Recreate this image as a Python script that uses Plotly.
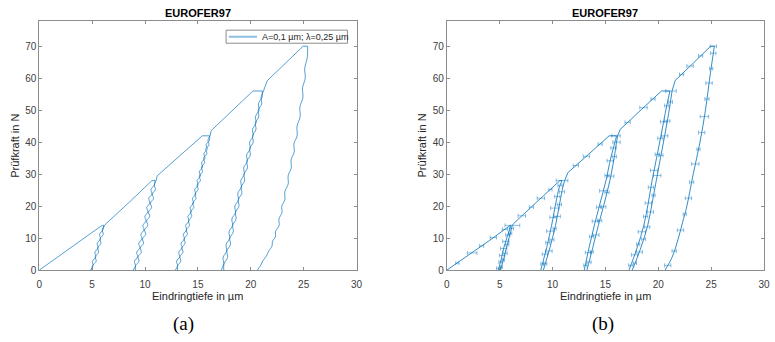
import plotly.graph_objects as go

BLUE = "rgba(0,114,189,0.9)"
LINE_A = "rgba(0,114,189,0.75)"
BAR_B = "rgba(0,114,189,0.45)"
FONT = "Liberation Sans, Arial, Helvetica, sans-serif"

# ---------------- (a) wavy surface, A = 0.1 µm, lambda = 0.25 µm ----------------
# loading branches incl. hold at peak force (depth h in µm, force F in N)
a_load_h = [
    [0, 1, 2, 3, 4, 5, 5.95, 6.10],
    [6.18, 6.30, 8.5, 10.65, 10.95],
    [11.05, 11.15, 13.3, 15.42, 16.10],
    [16.15, 16.25, 20.2, 21.10],
    [21.20, 21.55, 24.95, 25.38],
]
a_load_F = [
    [0, 2.3, 4.75, 7.15, 9.45, 11.8, 14, 14],
    [14, 14.5, 21.2, 28, 28],
    [28, 29.5, 35.8, 42, 42],
    [42, 43.6, 56, 56],
    [56, 59.2, 70, 70],
]

# unloading / reloading branches (listed from F = 0 upwards)
a_F1 = [0, 1.4, 2.8, 4.2, 5.6, 7.0, 8.4, 9.8, 11.2, 12.6, 14.0]
a_unload1 = [4.83, 5.08, 5.03, 5.35, 5.26, 5.57, 5.48, 5.79, 5.70, 6.02, 6.10]
a_reload1 = [4.98, 5.03, 5.38, 5.30, 5.61, 5.52, 5.83, 5.74, 6.05, 5.95, 6.18]

a_F2 = [0, 1.4, 2.8, 4.2, 5.6, 7.0, 8.4, 9.8, 11.2, 12.6, 14.0,
        15.4, 16.8, 18.2, 19.6, 21.0, 22.4, 23.8, 25.2, 26.6, 28.0]
a_unload2 = [8.88, 9.09, 9.00, 9.31, 9.21, 9.51, 9.41, 9.71, 9.61, 9.90, 9.80,
             10.09, 9.98, 10.27, 10.16, 10.45, 10.35, 10.65, 10.56, 10.88, 10.95]
a_reload2 = [9.10, 9.11, 9.43, 9.34, 9.65, 9.56, 9.86, 9.76, 10.06, 9.96, 10.26,
             10.15, 10.44, 10.33, 10.62, 10.51, 10.80, 10.69, 10.98, 10.87, 11.05]

a_F3 = [0, 1.4, 2.8, 4.2, 5.6, 7.0, 8.4, 9.8, 11.2, 12.6, 14.0,
        15.4, 16.8, 18.2, 19.6, 21.0, 22.4, 23.8, 25.2, 26.6, 28.0,
        29.4, 30.8, 32.2, 33.6, 35.0, 36.4, 37.8, 39.2, 40.6, 42.0]
a_unload3 = [12.86, 13.07, 12.98, 13.28, 13.19, 13.50, 13.41, 13.72, 13.62, 13.93, 13.84,
             14.15, 14.06, 14.36, 14.27, 14.58, 14.49, 14.80, 14.70, 15.01, 14.92,
             15.23, 15.14, 15.44, 15.35, 15.66, 15.57, 15.88, 15.78, 16.09, 16.10]
a_reload3 = [13.08, 13.08, 13.38, 13.29, 13.59, 13.49, 13.79, 13.70, 14.00, 13.90, 14.20,
             14.11, 14.41, 14.31, 14.61, 14.51, 14.82, 14.72, 15.02, 14.92, 15.23,
             15.13, 15.43, 15.33, 15.64, 15.54, 15.84, 15.74, 16.05, 15.95, 16.15]

a_F4 = [0, 2, 4, 6, 8, 10, 12, 14, 16, 18, 20, 22, 24, 26, 28,
        30, 32, 34, 36, 38, 40, 42, 44, 46, 48, 50, 52, 54, 56]
a_unload4 = [17.20, 17.44, 17.38, 17.72, 17.66, 18.00, 17.94, 18.28, 18.21, 18.55, 18.49,
             18.83, 18.77, 19.11, 19.05, 19.39, 19.33, 19.67, 19.61, 19.95, 19.89,
             20.23, 20.16, 20.50, 20.44, 20.78, 20.72, 21.06, 21.10]
a_reload4 = [17.44, 17.47, 17.81, 17.74, 18.08, 18.01, 18.35, 18.28, 18.61, 18.55, 18.88,
             18.82, 19.15, 19.09, 19.42, 19.35, 19.69, 19.62, 19.96, 19.89, 20.23,
             20.16, 20.49, 20.43, 20.76, 20.70, 21.03, 20.97, 21.20]

a_F5 = [0, 1.5, 3, 4.5, 6, 7.5, 9, 10.5, 12, 14, 16, 18, 20, 22, 24.5, 27,
        29.5, 32, 34.5, 37, 39.5, 42, 45, 48, 51, 54, 57, 60, 63, 66.5, 70]
a_unload5 = [20.62, 20.93, 21.15, 21.49, 21.70, 22.01, 22.05, 22.34, 22.33, 22.68, 22.66,
             22.95, 22.93, 23.22, 23.22, 23.54, 23.53, 23.83, 23.81, 24.11, 24.08,
             24.38, 24.37, 24.67, 24.64, 24.93, 24.89, 25.15, 25.10, 25.34, 25.38]

# ---------------- (b) mean curves with horizontal scatter bars ----------------
b_load_h = [
    [0, 2, 4, 6.0, 6.08],
    [6.2, 6.3, 8.5, 10.7, 10.9],
    [11.15, 11.45, 13.4, 15.35, 16.05],
    [16.15, 16.4, 18.4, 20.3, 21.1],
    [21.3, 21.6, 23.3, 24.95, 25.3],
]
b_load_F = [
    [0, 4.5, 9.2, 14, 14],
    [14, 14.5, 21.3, 28, 28],
    [28, 30.5, 36.2, 42, 42],
    [42, 44, 50.2, 56, 56],
    [56, 59.3, 64.7, 70, 70],
]

b_F1 = [0, 3.5, 7, 10.5, 14]
b_unload1 = [4.86, 5.15, 5.39, 5.72, 6.08]
b_reload1 = [5.07, 5.38, 5.64, 5.92, 6.2]
b_F2 = [0, 7, 14, 21, 26, 28]
b_unload2 = [8.88, 9.44, 9.91, 10.31, 10.65, 10.9]
b_reload2 = [9.13, 9.75, 10.28, 10.68, 10.98, 11.15]
b_F3 = [0, 7, 14, 21, 28, 35, 40, 42]
b_unload3 = [13.0, 13.45, 13.95, 14.5, 15.05, 15.5, 15.9, 16.05]
b_reload3 = [13.25, 13.8, 14.33, 14.9, 15.42, 15.82, 16.05, 16.15]
b_F4 = [0, 7, 14, 21, 28, 35, 42, 49, 56]
b_unload4 = [17.23, 18.0, 18.63, 19.05, 19.41, 19.83, 20.25, 20.65, 21.1]
b_reload4 = [17.54, 18.35, 19.0, 19.42, 19.81, 20.2, 20.6, 20.98, 21.3]
b_F5 = [0, 4, 10, 15, 20, 30, 40, 50, 60, 70]
b_unload5 = [20.64, 21.3, 21.9, 22.3, 22.7, 23.3, 23.94, 24.46, 24.86, 25.3]

# scatter of the depth at selected force levels (centre h, F, half width dh)
eb_h = [1.0, 2.4, 3.3, 4.4, 5.5, 6.2, 7.1, 8.0, 8.9, 9.8, 10.9, 12.2, 13.2, 14.5, 16.0,
        17.1, 18.6, 19.5, 21.2, 22.2, 23.0, 24.0, 25.2,
        4.91, 5.07, 5.23, 5.38, 5.58, 5.77, 5.16, 5.35, 5.51, 5.72, 6.0, 6.12,
        9.04, 9.28, 9.55, 9.79, 10.05, 10.22, 10.45, 10.71,
        9.31, 9.66, 9.94, 10.2, 10.44, 10.65, 10.89,
        13.1, 13.35, 13.7, 14.05, 14.4, 14.8, 15.15, 15.45, 15.76,
        13.45, 13.7, 14.1, 14.45, 14.8, 15.15, 15.5, 15.84, 16.05,
        17.4, 17.76, 18.1, 18.45, 18.8, 19.05, 19.3, 19.6, 19.9, 20.2, 20.5, 20.8,
        17.79, 18.2, 18.6, 18.95, 19.25, 19.55, 19.9, 20.25, 20.6, 20.85, 21.14,
        20.89, 21.5, 22.1, 22.5, 22.85, 23.15, 23.5, 23.8, 24.1, 24.36, 24.6, 24.8, 25.0, 25.2]
eb_F = [2.2, 5.4, 7.6, 10.2, 12.8, 14.0, 17.0, 19.7, 22.5, 25.2, 28.0, 32.7, 35.6, 39.4, 42.0,
        46.2, 50.8, 53.5, 56.0, 61.2, 63.8, 67.0, 70.0,
        0.6, 2.5, 4.6, 6.8, 9.0, 11.0, 1.0, 3.2, 5.3, 8.0, 11.5, 13.0,
        2.0, 5.0, 8.6, 12.2, 16.5, 19.4, 23.0, 26.5,
        2.0, 6.0, 9.5, 13.0, 16.8, 20.5, 24.5,
        1.5, 5.5, 10.5, 15.3, 19.7, 24.8, 29.6, 34.2, 38.2,
        2.5, 5.7, 11.0, 15.5, 19.8, 24.3, 29.4, 35.5, 40.0,
        1.5, 4.8, 8.1, 12.0, 16.8, 21.0, 25.9, 31.2, 36.2, 41.2, 46.4, 51.4,
        2.2, 5.7, 9.7, 13.5, 18.2, 23.4, 29.6, 35.9, 42.0, 46.6, 52.6,
        1.5, 6.0, 12.5, 17.5, 22.5, 27.5, 33.2, 37.8, 43.0, 48.0, 53.5, 58.5, 63.0, 67.8]
eb_dh = [0.15, 0.45, 0.2, 0.3, 0.25, 0.7, 0.35, 0.2, 0.35, 0.15, 0.55, 0.25, 0.3, 0.2, 0.4,
         0.25, 0.35, 0.2, 0.5, 0.2, 0.3, 0.2, 0.3,
         0.2, 0.15, 0.25, 0.3, 0.3, 0.2, 0.1, 0.1, 0.2, 0.15, 0.15, 0.2,
         0.15, 0.25, 0.2, 0.35, 0.3, 0.4, 0.25, 0.2,
         0.15, 0.3, 0.2, 0.15, 0.3, 0.2, 0.25,
         0.15, 0.25, 0.2, 0.3, 0.25, 0.35, 0.2, 0.3, 0.25,
         0.2, 0.15, 0.3, 0.2, 0.25, 0.2, 0.3, 0.2, 0.35,
         0.2, 0.3, 0.15, 0.35, 0.2, 0.3, 0.25, 0.35, 0.2, 0.25, 0.3, 0.2,
         0.15, 0.3, 0.2, 0.25, 0.3, 0.15, 0.35, 0.2, 0.3, 0.25, 0.2,
         0.3, 0.2, 0.3, 0.15, 0.3, 0.2, 0.35, 0.15, 0.3, 0.4, 0.2, 0.3, 0.15, 0.25]

LEGEND_TEXT = "A=0,1 µm; λ=0,25 µm"

fig = go.Figure()


def add_line(x, y, xa, ya, color, width=1, shape="linear"):
    fig.add_trace(go.Scatter(x=x, y=y, mode="lines", xaxis=xa, yaxis=ya,
                             line=dict(color=color, width=width, shape=shape, smoothing=1.0),
                             showlegend=False, hoverinfo="skip"))


# panel (a)
for hs, fs in zip(a_load_h, a_load_F):
    add_line(hs, fs, "x", "y", LINE_A, width=0.9)
for fs, un, re in [(a_F1, a_unload1, a_reload1), (a_F2, a_unload2, a_reload2),
                   (a_F3, a_unload3, a_reload3), (a_F4, a_unload4, a_reload4)]:
    add_line(un, fs, "x", "y", LINE_A, width=0.9, shape="spline")
    add_line(re, fs, "x", "y", LINE_A, width=0.9, shape="spline")
add_line(a_unload5, a_F5, "x", "y", LINE_A, width=0.9, shape="spline")

# panel (b)
fig.add_trace(go.Scatter(x=eb_h, y=eb_F, mode="markers", xaxis="x2", yaxis="y2",
                         marker=dict(size=1, color="rgba(0,0,0,0)"),
                         error_x=dict(type="data", array=eb_dh, color=BAR_B, thickness=1, width=2),
                         showlegend=False, hoverinfo="skip"))
for hs, fs in zip(b_load_h, b_load_F):
    add_line(hs, fs, "x2", "y2", BLUE, width=0.9)
for fs, un, re in [(b_F1, b_unload1, b_reload1), (b_F2, b_unload2, b_reload2),
                   (b_F3, b_unload3, b_reload3), (b_F4, b_unload4, b_reload4)]:
    add_line(un, fs, "x2", "y2", BLUE, width=0.9, shape="spline")
    add_line(re, fs, "x2", "y2", BLUE, width=0.9, shape="spline")
add_line(b_unload5, b_F5, "x2", "y2", BLUE, width=0.9, shape="spline")

W, H = 775, 342
ax = dict(showline=True, linecolor="#8c8c8c", linewidth=1, mirror="ticks",
          ticks="inside", ticklen=3, tickcolor="#8c8c8c", showgrid=False, zeroline=False,
          tickfont=dict(family=FONT, size=10, color="#404040"))
ydom = [(H - 275) / H, (H - 21) / H]
fig.update_layout(
    width=W, height=H, margin=dict(l=0, r=0, t=0, b=0),
    paper_bgcolor="white", plot_bgcolor="white", showlegend=False,
    xaxis=dict(domain=[36.7 / W, 357.7 / W], range=[0, 30], tick0=0, dtick=5, anchor="y",
               ticklabelstandoff=5, **ax),
    yaxis=dict(domain=ydom, range=[0, 78], tick0=0, dtick=10, anchor="x", **ax),
    xaxis2=dict(domain=[449 / W, 770 / W], range=[0, 30], tick0=0, dtick=5, anchor="y2",
                ticklabelstandoff=5, **ax),
    yaxis2=dict(domain=ydom, range=[0, 78], tick0=0, dtick=10, anchor="x2", **ax),
)


def px(x):
    return x / W


def py(y):
    return 1 - y / H


# legend box of panel (a)
shapes = [
    dict(type="rect", xref="paper", yref="paper", x0=px(225.7), x1=px(348.5),
         y0=py(44), y1=py(30.7), line=dict(color="#8c8c8c", width=1), fillcolor="white"),
    dict(type="line", xref="paper", yref="paper", x0=px(228.5), x1=px(257),
         y0=py(37.4), y1=py(37.4), line=dict(color="rgba(0,114,189,0.45)", width=2)),
]
ann = [dict(x=px(260), y=py(37.4), xref="paper", yref="paper", text=LEGEND_TEXT,
            xanchor="left", yanchor="middle", showarrow=False,
            font=dict(family=FONT, size=9, color="#262626"))]

for cx, cap, capx, ylx in [(197.2, "(a)", 182.5, 12.5), (609.5, "(b)", 607.5, 424)]:
    ann.append(dict(x=px(cx), y=py(13), xref="paper", yref="paper", text="<b>EUROFER97</b>",
                    xanchor="center", yanchor="middle", showarrow=False,
                    font=dict(family=FONT, size=11, color="#000000")))
    ann.append(dict(x=px(cx), y=py(301.5), xref="paper", yref="paper", text="Eindringtiefe in µm",
                    xanchor="center", yanchor="middle", showarrow=False,
                    font=dict(family=FONT, size=11, color="#262626")))
    ann.append(dict(x=px(ylx), y=py(148), xref="paper", yref="paper", text="Prüfkraft in N",
                    xanchor="center", yanchor="middle", textangle=-90, showarrow=False,
                    font=dict(family=FONT, size=11, color="#262626")))
    ann.append(dict(x=px(capx), y=py(330), xref="paper", yref="paper", text=cap,
                    xanchor="center", yanchor="middle", showarrow=False,
                    font=dict(family="Liberation Serif, Times New Roman, serif",
                              size=19, color="#000000")))
fig.update_layout(shapes=shapes, annotations=ann)

fig.write_html("out.html")
